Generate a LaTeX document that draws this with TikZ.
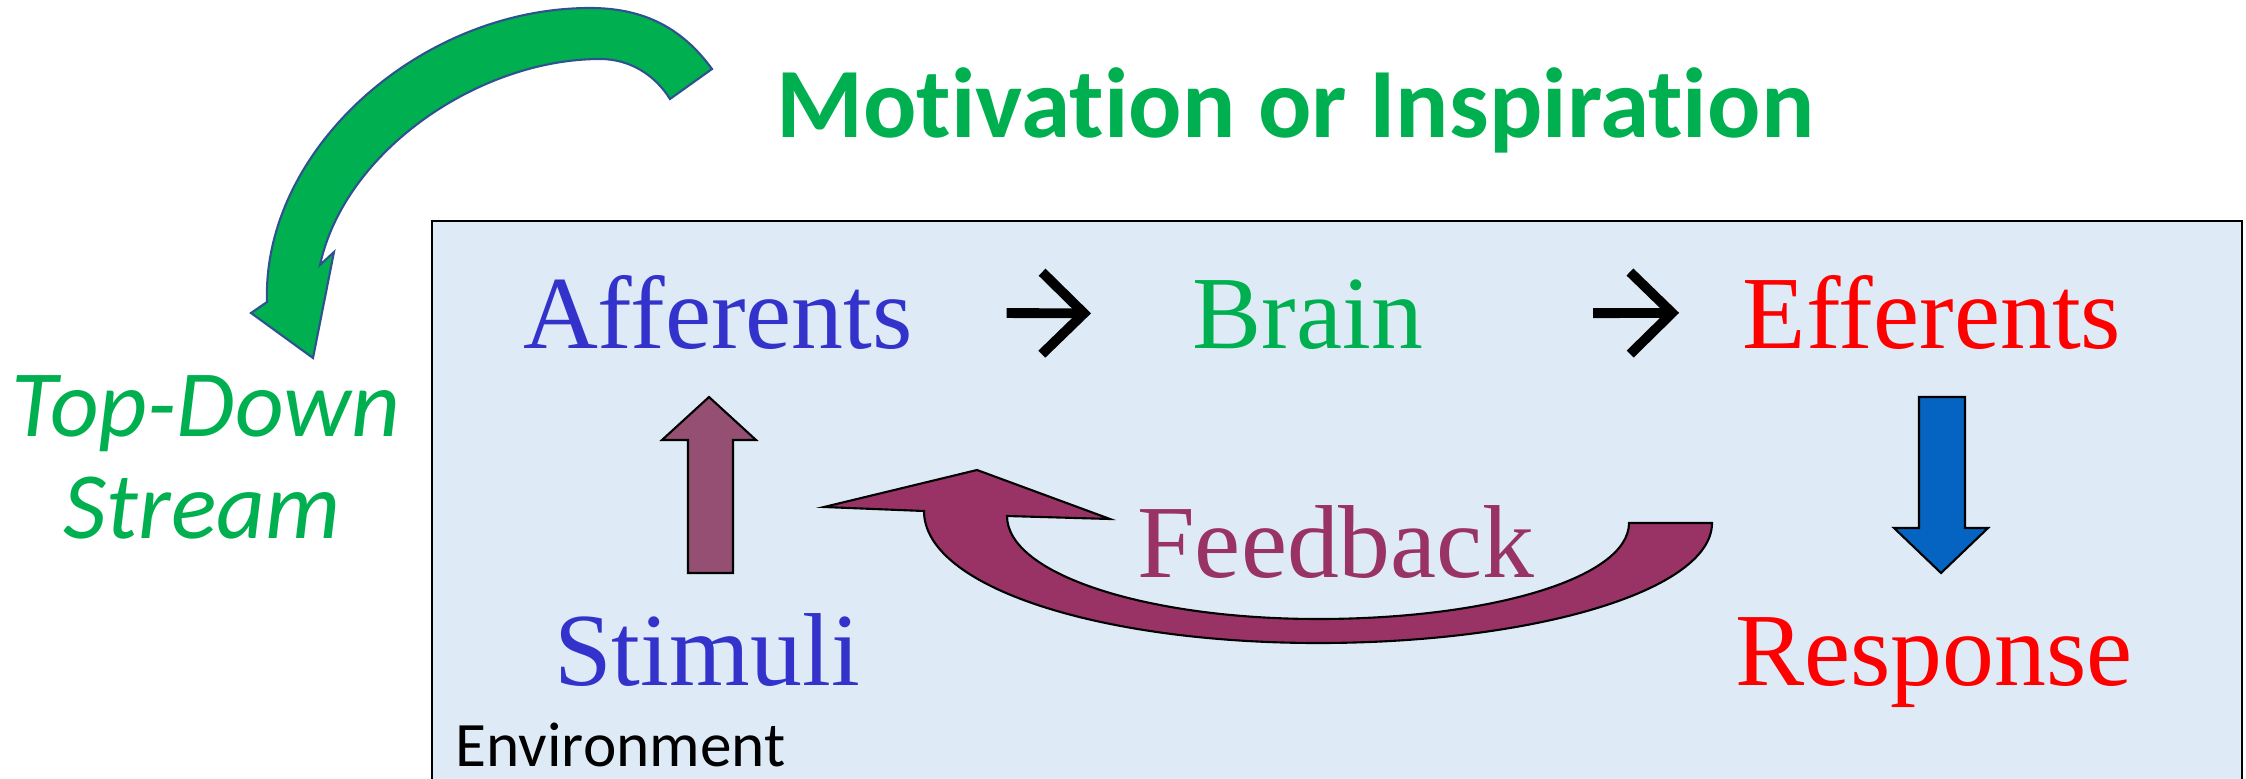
\documentclass[tikz,border=0pt]{standalone}
\usepackage{fontspec}
\setmainfont[Ligatures=NoCommon]{Liberation Serif}
\newfontfamily\calibri[Ligatures=NoCommon]{Carlito}
\usetikzlibrary{arrows.meta}
\definecolor{boxblue}{HTML}{DEEBF7}
\definecolor{offgreen}{HTML}{00B050}
\definecolor{affblue}{HTML}{3333CC}
\definecolor{fbpurple}{HTML}{993366}
\definecolor{upmauve}{HTML}{954F72}
\definecolor{downblue}{HTML}{0563C1}
\definecolor{edgeblue}{HTML}{2F528F}

\begin{document}
\begin{tikzpicture}[x=0.01cm,y=-0.01cm]
			\tikzstyle{ws} = [inner sep=0, anchor=base, font=\fontsize{29.5}{34}\selectfont]
			\tikzstyle{cs} = [inner sep=0, anchor=base, text=offgreen]
			\tikzstyle{ga} = [line width=2.8pt, -{Straight Barb[length=0.42cm,width=0.82cm]}]
			\tikzstyle{blk} = [draw=black, line width=0.6pt, line join=miter]
			\useasboundingbox (0,0) rectangle (2246,779);
			\draw [fill=boxblue, line width=0.8pt] (432,221) rectangle (2242,800);
			% top-down arrow
			\filldraw [fill=offgreen, draw=edgeblue, line width=0.6pt] (712,69) .. controls (680,25) and (640,8) .. (590,8)
				.. controls (420,8) and (262,150) .. (267,302) -- (251,313) -- (313,358) -- (334,252) -- (320,265)
				.. controls (345,150) and (480,59) .. (600,59) .. controls (630,59) and (655,75) .. (670,99) -- cycle;
			\node [cs, font=\calibri\bfseries\fontsize{28.3}{34}\selectfont] (motiv) at (1295,137) {Motivation or Inspiration};
			\node [cs, font=\calibri\itshape\fontsize{27}{31}\selectfont] (td1) at (206,436) {Top-Down};
			\node [cs, font=\calibri\itshape\fontsize{27}{31}\selectfont] (td2) at (202,538) {Stream};
			\node [ws, text=affblue] (aff) at (718,348) {Afferents};
			\node [ws, text=offgreen] (brain) at (1308,348) {Brain};
			\node [ws, text=red] (eff) at (1932,348) {Efferents};
			\node [ws, text=affblue] (stim) at (707,685) {Stimuli};
			\node [ws, text=red] (resp) at (1934,685) {Response};
			\draw [ga, shorten <=0.93cm, shorten >=1.01cm] (aff) -- (brain);
			\draw [ga, shorten <=1.69cm, shorten >=0.63cm] (brain) -- (eff);
			% block arrows
			\filldraw [fill=upmauve, blk] (709,397) -- (756,440) -- (733,440) -- (733,573) -- (688,573) -- (688,440) -- (662,440) -- cycle;
			\filldraw [fill=downblue, blk] (1919,397) -- (1965,397) -- (1965,528) -- (1988,528) -- (1941,573) -- (1894,528) -- (1919,528) -- cycle;
			\filldraw [fill=fbpurple, blk] (924,511) .. controls (924,587) and (1100,643) .. (1318,643) .. controls (1536,643) and (1712,590) .. (1712,523)
				-- (1629,523) .. controls (1629,578) and (1490,619) .. (1318,619) .. controls (1146,619) and (1007,574) .. (1007,516)
				-- (1110,519) -- (977,470) -- (824,507) -- cycle;
			\node [ws, text=fbpurple] (fb) at (1336,577) {Feedback};
			\node [inner sep=0, anchor=base west, font=\calibri\fontsize{18}{21}\selectfont] (env) at (455,766) {Environment};
		\end{tikzpicture}
\end{document}
